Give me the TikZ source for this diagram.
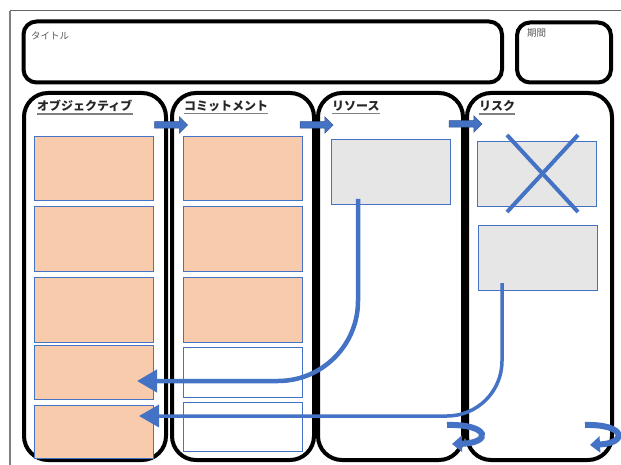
\documentclass[tikz,border=0pt]{standalone}
\usepackage{fontspec}
\newfontfamily\cjk{Noto Sans CJK JP}
\usetikzlibrary{arrows.meta,shapes.arrows,calc}
\definecolor{obl}{HTML}{4472C4}
\definecolor{obd}{HTML}{2F528F}
\definecolor{peach}{HTML}{F8CBAD}
\definecolor{lgray}{HTML}{E6E6E6}
\tikzset{
  frameline/.style={line width=4pt, rounded corners=13pt},
  colbox/.style={line width=4pt, rounded corners=24pt},
  cell/.style={draw=obl, line width=0.8pt, anchor=north west, inner sep=0pt, outer sep=0pt},
  pcell/.style={cell, fill=peach, minimum width=119pt, minimum height=64pt},
  wcell/.style={cell, fill=white, minimum width=119pt, minimum height=50pt},
  gcell/.style={cell, fill=lgray, minimum width=119pt, minimum height=65pt},
  head/.style={font=\cjk\bfseries\fontsize{12}{13}\selectfont, text=black!85, anchor=west, inner sep=0pt},
  small/.style={font=\cjk\fontsize{9.5}{10}\selectfont, text=black!65, anchor=west, inner sep=0pt},
  uline/.style={draw=black!50, line width=1.6pt},
  blockarrow/.style={single arrow, fill=obl, draw=obd, line width=0.5pt, minimum height=33pt, minimum width=16pt, inner sep=3pt, single arrow head extend=5pt},
  flow/.style={draw=obl, -{Triangle[length=20pt,width=22pt]}},
  uturn/.style={draw=obl, line width=6pt, -{Triangle[length=10pt,width=16pt]}},
}
\begin{document}
\begin{tikzpicture}[x=1pt,y=-1pt]
\useasboundingbox (0,0) rectangle (621,465);
% outer frame
\draw[black!60, line width=1pt] (621,11) -- (10,11);
\draw[black!50, line width=1.6pt] (10,11) -- (10,465);
% title and period
\draw[frameline] (23.5,21.5) rectangle (502,82.5);
\node[small] (title) at (31,36) {タイトル};
\draw[frameline] (517,22.5) rectangle (611,82.5);
\node[small] (period) at (527,33) {期間};
% columns
\draw[colbox] (24,93) rectangle (166,460);
\draw[colbox] (172,93) rectangle (314,460);
\draw[colbox] (318,93) rectangle (463,460);
\draw[colbox] (467,93) rectangle (612,460);
% headers
\node[head] (h1) at (37,106) {オブジェクティブ};
\node[head] (h2) at (184,106) {コミットメント};
\node[head] (h3) at (332,106) {リソース};
\node[head] (h4) at (479,106) {リスク};
\foreach \h in {h1,h2,h3,h4}{\draw[uline] ($(\h.south west)+(0,2)$) -- ($(\h.south east)+(0,2)$);}
% block arrows
\node[blockarrow] (a1) at (169.5,125) {};
\node[blockarrow] (a2) at (315,125) {};
\node[blockarrow] (a3) at (464,124) {};
% objective cells
\node[pcell] (o1) at (34,136) {};
\node[pcell, minimum height=65pt] (o2) at (34,206) {};
\node[pcell, minimum height=65pt] (o3) at (34,277) {};
\node[pcell, minimum height=54pt] (o4) at (34,345) {};
\node[pcell, minimum height=53pt] (o5) at (34,405) {};
% commitment cells
\node[pcell] (c1) at (183,136) {};
\node[pcell, minimum height=65pt] (c2) at (183,206) {};
\node[pcell, minimum height=65pt] (c3) at (183,277) {};
\node[wcell] (c4) at (183,347) {};
\node[wcell, minimum height=49pt] (c5) at (183,402) {};
% resource cell
\node[gcell] (r1) at (331,139) {};
% risk cells
\node[gcell] (k1) at (477,141) {};
\node[gcell] (k2) at (478,225) {};
\draw[obl, line width=4pt] (507,135) -- (578,212);
\draw[obl, line width=4pt] (578,135) -- (507,212);
% flows
\coordinate (f1s) at (358,199);
\coordinate (f1e) at (137,381);
\coordinate (f2s) at (502,283);
\coordinate (f2e) at (139,416);
\draw[flow, line width=4.5pt, rounded corners=80pt] (f1s) |- (f1e);
\draw[flow, line width=3.5pt, rounded corners=55pt] (f2s) |- (f2e);
% u-turn arrows
\draw[uturn] (447,425) .. controls (490,424) and (492,443) .. (452,444);
\draw[uturn] (585,425) .. controls (626,424) and (628,443) .. (590,445);
\end{tikzpicture}
\end{document}
